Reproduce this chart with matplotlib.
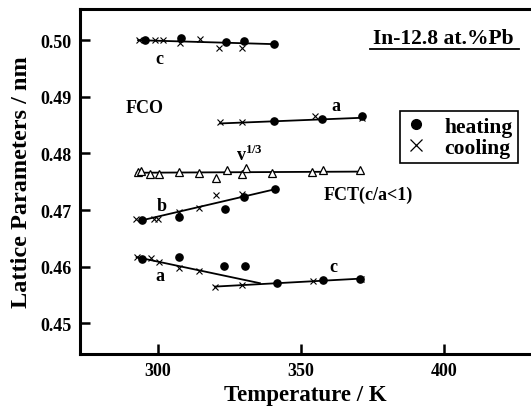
import matplotlib
matplotlib.use('Agg')
import matplotlib.pyplot as plt
from matplotlib.lines import Line2D

plt.rcParams['font.family'] = ['Liberation Serif', 'DejaVu Serif']
plt.rcParams['font.weight'] = 'bold'
plt.rcParams['mathtext.fontset'] = 'custom'
plt.rcParams['mathtext.rm'] = 'Liberation Serif:bold'
plt.rcParams['mathtext.bf'] = 'Liberation Serif:bold'

# FCO c (top)
c_top_heat_T = [295.4, 308.0, 323.6, 330.2, 340.6]
c_top_heat_v = [0.5000, 0.5003, 0.4997, 0.4998, 0.4993]
c_top_cool_T = [293.2, 298.9, 301.6, 307.6, 314.7, 321.4, 329.4]
c_top_cool_v = [0.5000, 0.5000, 0.5000, 0.4995, 0.5002, 0.4987, 0.4987]
c_top_fit_T = [293.0, 340.6]
c_top_fit_v = [0.5000, 0.4993]

# FCO a
a_top_heat_T = [340.6, 357.2, 371.2]
a_top_heat_v = [0.4857, 0.4860, 0.4867]
a_top_cool_T = [321.7, 329.4, 355.0, 371.4]
a_top_cool_v = [0.4855, 0.4855, 0.4866, 0.4862]
a_top_fit_T = [321.7, 371.2]
a_top_fit_v = [0.4853, 0.4863]

# v^(1/3)
v_T = [292.8, 294.0, 297.2, 300.4, 307.4, 314.3, 320.3, 324.0, 329.2, 330.6,
       339.7, 353.9, 357.8, 370.6]
v_v = [0.4768, 0.4769, 0.4763, 0.4763, 0.4768, 0.4766, 0.4756, 0.4771, 0.4763,
       0.4775, 0.4765, 0.4768, 0.4771, 0.4771]
v_fit_T = [292.5, 370.6]
v_fit_v = [0.4766, 0.4768]

# b
b_heat_T = [294.3, 307.4, 323.4, 330.2, 341.0]
b_heat_v = [0.4682, 0.4687, 0.4702, 0.4723, 0.4737]
b_cool_T = [292.3, 298.6, 300.1, 307.2, 314.3, 320.3, 329.2]
b_cool_v = [0.4685, 0.4685, 0.4684, 0.4697, 0.4703, 0.4726, 0.4728]
b_fit_T = [294.3, 341.0]
b_fit_v = [0.4682, 0.4737]

# FCT a (lower) and c (lower)
lo_heat_T = [294.5, 307.3, 323.2, 330.4, 341.5, 357.6, 370.6]
lo_heat_v = [0.4614, 0.4617, 0.4601, 0.4602, 0.4571, 0.4577, 0.4578]
lo_cool_T = [292.5, 297.4, 300.3, 307.3, 314.4, 319.9, 329.2, 354.3, 370.8]
lo_cool_v = [0.4617, 0.4615, 0.4609, 0.4598, 0.4593, 0.4565, 0.4568, 0.4574, 0.4578]
a_lo_fit_T = [292.5, 335.6]
a_lo_fit_v = [0.4617, 0.4571]
c_lo_fit_T = [319.9, 370.6]
c_lo_fit_v = [0.4565, 0.4579]

fig = plt.figure(figsize=(5.31, 4.14), dpi=100)
ax = fig.add_axes([0.1507, 0.1425, 0.8493, 0.8333])

line_kw = dict(color='black', lw=1.3)
dot_kw = dict(ls='none', marker='o', ms=5.2, color='black')
cross_kw = dict(ls='none', marker='x', ms=5, mew=0.8, color='black')

for T, v in [(c_top_fit_T, c_top_fit_v), (a_top_fit_T, a_top_fit_v),
             (v_fit_T, v_fit_v), (b_fit_T, b_fit_v),
             (a_lo_fit_T, a_lo_fit_v), (c_lo_fit_T, c_lo_fit_v)]:
    ax.plot(T, v, **line_kw)

for T, v in [(c_top_cool_T, c_top_cool_v), (a_top_cool_T, a_top_cool_v),
             (b_cool_T, b_cool_v), (lo_cool_T, lo_cool_v)]:
    ax.plot(T, v, **cross_kw)
for T, v in [(c_top_heat_T, c_top_heat_v), (a_top_heat_T, a_top_heat_v),
             (b_heat_T, b_heat_v), (lo_heat_T, lo_heat_v)]:
    ax.plot(T, v, **dot_kw)

ax.plot(v_T, v_v, ls='none', marker='^', ms=5.5, mfc='white', mec='black', mew=0.9)

# labels
lab = dict(fontsize=13, fontweight='bold', ha='center', va='center')
ax.text(300.4, 0.4968, 'c', **lab)
ax.text(295.4, 0.4881, 'FCO', **lab)
ax.text(362.2, 0.4885, 'a', **lab)
ax.text(332.1, 0.4799, r'v$^{\mathbf{1/3}}$', **lab)
ax.text(301.3, 0.4708, 'b', **lab)
ax.text(373.6, 0.4728, 'FCT(c/a<1)', **lab)
ax.text(300.7, 0.4584, 'a', **lab)
ax.text(361.3, 0.4601, 'c', **lab)

ax.text(0.8055, 0.915, 'In-12.8 at.%Pb', transform=ax.transAxes,
        fontsize=15.5, fontweight='bold', ha='center', va='center')
ax.plot([0.643, 0.973], [0.884, 0.884], transform=ax.transAxes, color='black', lw=1.3)

handles = [Line2D([], [], ls='none', marker='o', ms=7, color='black'),
           Line2D([], [], ls='none', marker='x', ms=8, mew=0.9, color='black')]
leg = ax.legend(handles, ['heating', 'cooling'], loc='upper right',
                bbox_to_anchor=(0.971, 0.704), prop={'size': 15.5, 'weight': 'bold'},
                frameon=True, fancybox=False, edgecolor='black', framealpha=1,
                borderpad=0.25, labelspacing=0.05, handlelength=1.0,
                handletextpad=0.8, borderaxespad=0)
leg.get_frame().set_linewidth(1.2)

ax.set_xlim(272.7, 430.4)
ax.set_ylim(0.4446, 0.5055)
ax.set_xticks([300, 350, 400])
ax.set_yticks([0.45, 0.46, 0.47, 0.48, 0.49, 0.50])
ax.set_yticklabels(['0.45', '0.46', '0.47', '0.48', '0.49', '0.50'])
ax.tick_params(direction='in', length=7, width=1.8, labelsize=13, pad=6)
for s in ['left', 'bottom', 'top']:
    ax.spines[s].set_linewidth(2.2)
ax.spines['right'].set_visible(False)

ax.set_xlabel('Temperature / K', fontsize=16.5, fontweight='bold', labelpad=3)
ax.set_ylabel('Lattice Parameters / nm', fontsize=17.5, fontweight='bold', labelpad=6)

fig.savefig('out.png', dpi=100)
